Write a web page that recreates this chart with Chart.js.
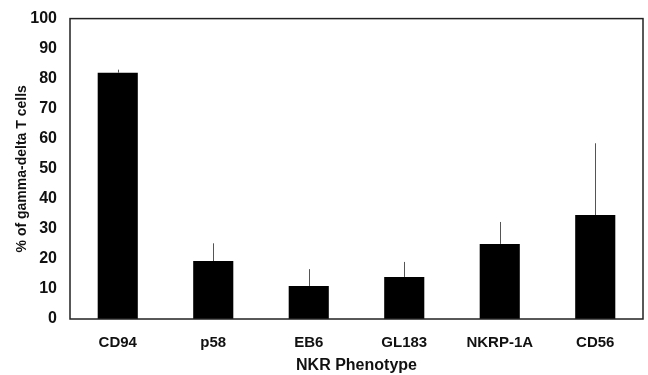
<!DOCTYPE html>
<html>
<head>
<meta charset="utf-8">
<script src="https://cdn.jsdelivr.net/npm/chart.js@4/dist/chart.umd.min.js"></script>
<style>
  body { margin: 0; background: #fff; }
  #wrap { width: 648px; height: 375px; }
</style>
</head>
<body>
<div id="wrap"><canvas id="chart"></canvas></div>
<script>
// data
const phenotypes = ['CD94', 'p58', 'EB6', 'GL183', 'NKRP-1A', 'CD56'];
const percent_values = [82, 19.3, 11, 14, 25, 34.6];
const error_tops = [83, 25.2, 16.6, 19, 32.3, 58.5];
const y_ticks = [0, 10, 20, 30, 40, 50, 60, 70, 80, 90, 100];

// error bars: thin vertical line from bar top up to the error value
const errorBars = {
	id: 'errorBars',
	afterDatasetsDraw(chart) {
		const ctx = chart.ctx;
		const meta = chart.getDatasetMeta(0);
		const y = chart.scales.y;
		ctx.save();
		ctx.strokeStyle = '#555';
		ctx.lineWidth = 1;
		meta.data.forEach((bar, i) => {
			const x = Math.round(bar.x) + 0.5;
			ctx.beginPath();
			ctx.moveTo(x, y.getPixelForValue(percent_values[i]));
			ctx.lineTo(x, y.getPixelForValue(error_tops[i]));
			ctx.stroke();
		});
		ctx.restore();
	}
};

// box round the plot area
const frame = {
	id: 'frame',
	afterDraw(chart) {
		const a = chart.chartArea;
		const ctx = chart.ctx;
		ctx.save();
		ctx.strokeStyle = '#222';
		ctx.lineWidth = 1.5;
		ctx.strokeRect(a.left, a.top, a.right - a.left, a.bottom - a.top);
		ctx.restore();
	}
};

new Chart(document.getElementById('chart'), {
	type: 'bar',
	data: {
		labels: phenotypes,
		datasets: [{
			data: percent_values,
			backgroundColor: '#000',
			borderWidth: 0,
			barPercentage: 0.84,
			categoryPercentage: 0.5
		}]
	},
	options: {
		responsive: true,
		maintainAspectRatio: false,
		animation: false,
		layout: { padding: { top: 18, right: 5, left: 0, bottom: 0 } },
		plugins: { legend: { display: false }, tooltip: { enabled: false } },
		scales: {
			x: {
				grid: { display: false, drawTicks: false },
				border: { display: false },
				ticks: {
					color: '#111',
					padding: 15,
					font: { family: 'Liberation Sans', size: 15, weight: 'bold' }
				},
				title: {
					display: true,
					text: 'NKR Phenotype',
					color: '#111',
					padding: { top: 4, bottom: 0 },
					font: { family: 'Liberation Sans', size: 16, weight: 'bold' }
				},
				afterFit(scale) { scale.height = 56; }
			},
			y: {
				min: 0,
				max: 100,
				afterBuildTicks(scale) { scale.ticks = y_ticks.map(v => ({ value: v })); },
				grid: { display: false, drawOnChartArea: false, drawTicks: true, tickLength: 4, color: '#222' },
				border: { display: false },
				ticks: {
					color: '#111',
					padding: 9,
					font: { family: 'Liberation Sans', size: 16, weight: 'bold' }
				},
				title: {
					display: true,
					text: '% of gamma-delta T cells',
					color: '#111',
					padding: { top: 14, bottom: 0 },
					font: { family: 'Liberation Sans', size: 14, weight: 'bold' }
				},
				afterFit(scale) { scale.width = 70; }
			}
		}
	},
	plugins: [errorBars, frame]
});
</script>
</body>
</html>
